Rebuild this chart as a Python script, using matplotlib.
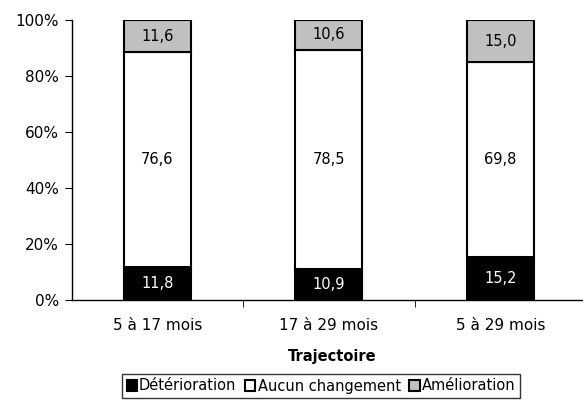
import matplotlib.pyplot as plt
import numpy as np
from matplotlib.patches import Patch
from matplotlib.ticker import PercentFormatter

categories = ['5 à 17 mois', '17 à 29 mois', '5 à 29 mois']
deterioration = [11.8, 10.9, 15.2]
aucun = [76.6, 78.5, 69.8]
amelioration = [11.6, 10.6, 15.0]


def fmt(v):
    return f'{v:.1f}'.replace('.', ',')


fig = plt.figure(figsize=(5.83, 4.07), dpi=100)
ax = fig.add_axes([71.5 / 583, 107 / 407, 514.5 / 583, 280 / 407])

x = np.arange(len(categories))
w = 0.39
kw = dict(width=w, edgecolor='black', linewidth=1.5)
ax.bar(x, deterioration, color='black', **kw)
ax.bar(x, aucun, bottom=deterioration, color='white', **kw)
bottom3 = np.array(deterioration) + np.array(aucun)
ax.bar(x, amelioration, bottom=bottom3, color='#c0c0c0', **kw)

for i in range(len(categories)):
    ax.text(x[i], deterioration[i] / 2, fmt(deterioration[i]), ha='center', va='center',
            color='white', fontsize=10.5)
    ax.text(x[i], deterioration[i] + aucun[i] / 2, fmt(aucun[i]), ha='center', va='center',
            color='black', fontsize=10.5)
    ax.text(x[i], bottom3[i] + amelioration[i] / 2, fmt(amelioration[i]), ha='center',
            va='center', color='black', fontsize=10.5)

ax.set_xlim(-0.5, 2.5)
ax.set_ylim(0, 100)
ax.set_yticks(np.arange(0, 101, 20))
ax.yaxis.set_major_formatter(PercentFormatter(decimals=0))
ax.set_xticks(x)
ax.set_xticklabels(categories)
ax.set_xticks([0.5, 1.5, 2.5], minor=True)
ax.tick_params(axis='x', which='major', length=0, pad=13, labelsize=11)
ax.tick_params(axis='x', which='minor', length=5, direction='out')
ax.tick_params(axis='y', length=5, direction='out', labelsize=11, pad=4)
ax.spines['top'].set_visible(False)
ax.spines['right'].set_visible(False)
for s in ['left', 'bottom']:
    ax.spines[s].set_linewidth(1.0)

fig.text(332 / 583, 1 - 356 / 407, 'Trajectoire', ha='center', va='center',
         fontsize=10.5, fontweight='bold')

handles = [Patch(facecolor='black', edgecolor='black', linewidth=1.5),
           Patch(facecolor='white', edgecolor='black', linewidth=1.5),
           Patch(facecolor='#c0c0c0', edgecolor='black', linewidth=1.5)]
labels = ['Détérioration', 'Aucun changement', 'Amélioration']
leg = fig.legend(handles, labels, loc='center', bbox_to_anchor=(321 / 583, 1 - 386 / 407),
                 ncol=3, fontsize=10.5, frameon=True, fancybox=False, handlelength=0.7,
                 handleheight=0.7, handletextpad=0.15, columnspacing=0.6, borderpad=0.3,
                 borderaxespad=0)
leg.get_frame().set_edgecolor('black')
leg.get_frame().set_linewidth(1.0)

fig.savefig('out.png', dpi=100)
